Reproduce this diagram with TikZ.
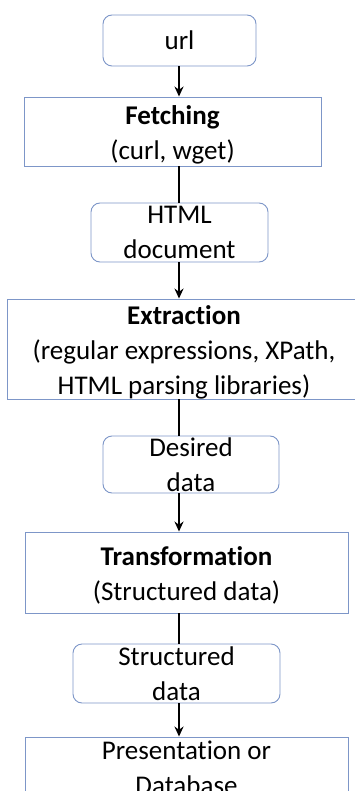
\documentclass[tikz,border=0pt]{standalone}
\usepackage{fontspec}
\setmainfont{Carlito}[Ligatures=NoCommon]
\usetikzlibrary{arrows.meta}
\definecolor{boxline}{RGB}{125,150,200}
\tikzset{
  txt/.style={align=center, inner sep=0pt, font=\fontsize{27}{35}\selectfont, text=black},
  base/.style={txt, draw=boxline, line width=0.9pt, fill=white},
  roundbox/.style={base, rounded corners=9pt},
  sqbox/.style={base},
  conn/.style={line width=2pt, black},
  arr/.style={conn, -{Stealth[length=10pt,width=9pt]}},
}
\begin{document}
\begin{tikzpicture}[x=1pt,y=-1pt]
\useasboundingbox (0,0) rectangle (355,791);
\coordinate (ax) at (179,0);
\node[roundbox, minimum width=153pt, minimum height=51pt] (url) at (179.5,40.5) {url};
\node[sqbox, minimum width=297pt, minimum height=69pt] (fetch) at (172.5,131.5) {};
\node[txt] (fetchT) at ([yshift=-3.5pt]fetch.center) {\textbf{Fetching}\\(curl, wget)};
\node[roundbox, minimum width=177pt, minimum height=59pt] (html) at (179.5,232.5) {HTML\\document};
\node[sqbox, minimum width=354pt, minimum height=100pt] (extr) at (184,349) {};
\node[txt] (extrT) at ([yshift=-3pt]extr.center) {\textbf{Extraction}\\(regular expressions, XPath,\\HTML parsing libraries)};
\node[roundbox, minimum width=176pt, minimum height=57pt] (desired) at (191,464.5) {Desired\\data};
\node[sqbox, minimum width=323pt, minimum height=81pt] (trans) at (186.5,572.5) {};
\node[txt] (transT) at ([yshift=-3pt]trans.center) {\textbf{Transformation}\\(Structured data)};
\node[roundbox, minimum width=207pt, minimum height=59pt] (struct) at (176.5,673.5) {Structured\\data};
\node[sqbox, minimum width=323pt, minimum height=62pt] (pres) at (186.5,768) {Presentation or\\Database};

\draw[arr] (url.south -| ax) -- (fetch.north -| ax);
\draw[conn] (fetch.south -| ax) -- (html.north -| ax);
\draw[arr] (html.south -| ax) -- (extr.north -| ax);
\draw[conn] (extr.south -| ax) -- (desired.north -| ax);
\draw[arr] (desired.south -| ax) -- (trans.north -| ax);
\draw[conn] (trans.south -| ax) -- (struct.north -| ax);
\draw[arr] (struct.south -| ax) -- (pres.north -| ax);
\end{tikzpicture}
\end{document}
